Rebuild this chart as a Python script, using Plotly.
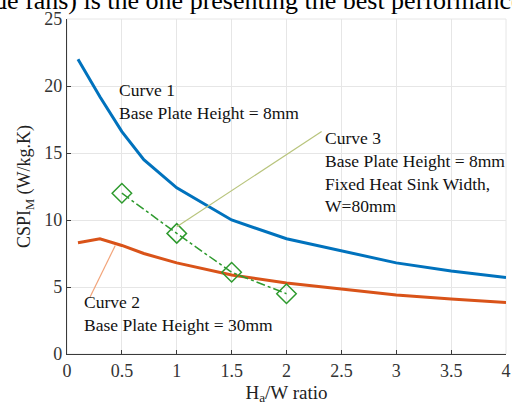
import plotly.graph_objects as go

# Data
x1 = [0.1, 0.3, 0.5, 0.7, 1.0, 1.5, 2.0, 2.5, 3.0, 3.5, 4.0]
y1 = [22.0, 19.2, 16.6, 14.5, 12.4, 10.0, 8.6, 7.7, 6.8, 6.2, 5.7]
x2 = [0.1, 0.3, 0.5, 0.7, 1.0, 1.5, 2.0, 2.5, 3.0, 3.5, 4.0]
y2 = [8.3, 8.6, 8.1, 7.5, 6.8, 5.9, 5.3, 4.85, 4.4, 4.1, 3.85]
x3 = [0.5, 1.0, 1.5, 2.0]
y3 = [12.0, 9.0, 6.1, 4.5]
xticks = [0, 0.5, 1, 1.5, 2, 2.5, 3, 3.5, 4]
xticklabels = ["0", "0.5", "1", "1.5", "2", "2.5", "3", "3.5", "4"]
yticks = [0, 5, 10, 15, 20, 25]

FONT = "Liberation Serif"

fig = go.Figure()
fig.add_trace(go.Scatter(x=x1, y=y1, mode="lines", line=dict(color="#0072BD", width=3)))
fig.add_trace(go.Scatter(x=x2, y=y2, mode="lines", line=dict(color="#D95319", width=3)))
fig.add_trace(go.Scatter(x=x3, y=y3, mode="lines+markers",
                         line=dict(color="#2E9A2E", width=1.5, dash="dashdot"),
                         marker=dict(symbol="diamond-open", size=15, color="#2E9A2E",
                                     line=dict(width=1.5, color="#2E9A2E"))))

# leader lines
fig.add_shape(type="line", x0=1.0, y0=9.5, x1=2.32, y1=16.6,
              line=dict(color="#B8C47C", width=1.2), layer="above")
fig.add_shape(type="line", x0=0.44, y0=8.1, x1=0.21, y1=4.25,
              line=dict(color="#F2A47A", width=1.2), layer="above")

tfont = dict(family=FONT, size=17.5, color="#111111")
fig.add_annotation(x=0.46, y=20.6, xref="x", yref="y", xanchor="left", yanchor="top",
                   text="Curve 1<br>Base Plate Height = 8mm", showarrow=False,
                   align="left", font=tfont)
fig.add_annotation(x=2.33, y=17.0, xref="x", yref="y", xanchor="left", yanchor="top",
                   text="Curve 3<br>Base Plate Height = 8mm<br>Fixed Heat Sink Width,<br>W=80mm",
                   showarrow=False, align="left", font=tfont)
fig.add_annotation(x=0.14, y=4.8, xref="x", yref="y", xanchor="left", yanchor="top",
                   text="Curve 2<br>Base Plate Height = 30mm", showarrow=False,
                   align="left", font=tfont)

# clipped text from the page above the chart
fig.add_annotation(x=(-8 - 67) / 439, y=1, xref="paper", yref="paper",
                   xanchor="left", yanchor="middle", yshift=19,
                   text="(side fans) is the one presenting the best performance"[3:],
                   showarrow=False, font=dict(family=FONT, size=26, color="#000000"))

fig.update_layout(
    width=512, height=406,
    margin=dict(l=67, r=6, t=19, b=52, autoexpand=False),
    paper_bgcolor="white", plot_bgcolor="white",
    showlegend=False,
    font=dict(family=FONT, size=16, color="#333333"),
)
fig.update_xaxes(range=[0, 4], tickvals=xticks, ticktext=xticklabels,
                 showgrid=True, gridcolor="#E6E6E6", gridwidth=1,
                 showline=True, linecolor="#3A3A3A", linewidth=1.2,
                 ticks="inside", ticklen=4, tickcolor="#3A3A3A",
                 zeroline=False, mirror=False, automargin=False,
                 tickfont=dict(family=FONT, size=18, color="#333333"),
                 title=dict(text="H<sub>a</sub>/W ratio", standoff=5,
                            font=dict(family=FONT, size=19, color="#222222")))
fig.update_yaxes(range=[0, 25], tickvals=yticks,
                 showgrid=True, gridcolor="#E6E6E6", gridwidth=1,
                 showline=True, linecolor="#3A3A3A", linewidth=1.2,
                 ticks="inside", ticklen=4, tickcolor="#3A3A3A",
                 zeroline=False, automargin=False,
                 tickfont=dict(family=FONT, size=18, color="#333333"),
                 title=dict(text="CSPI<sub>M</sub> (W/kg.K)", standoff=8,
                            font=dict(family=FONT, size=18, color="#222222")))
# light frame on top/right
fig.add_shape(type="rect", xref="paper", yref="paper", x0=0, y0=0, x1=1, y1=1,
              line=dict(color="#E6E6E6", width=1), layer="below")

fig.write_html("out.html", config={"displayModeBar": False},
               post_script="document.body.style.margin='0';document.body.style.overflow='hidden';")
